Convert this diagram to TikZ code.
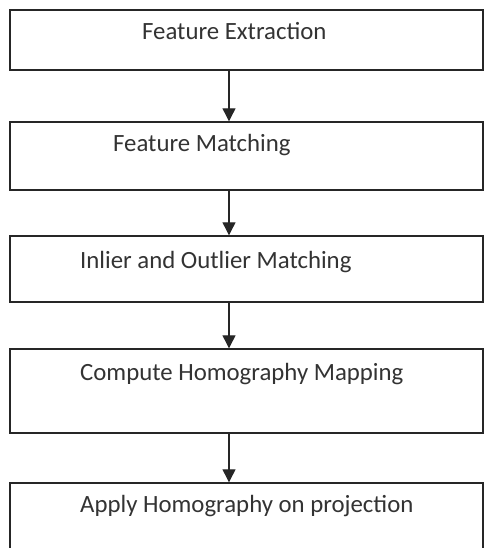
\documentclass[tikz,border=0pt]{standalone}
\usepackage{fontspec}
\setmainfont{Carlito}
\usepackage{xcolor}
\usetikzlibrary{arrows.meta}
\definecolor{FlowLine}{HTML}{262626}
\definecolor{FlowText}{HTML}{333333}

\tikzset{
  stagebox/.style={draw=FlowLine,line width=1.4pt,rectangle,minimum width=473pt,inner sep=0pt},
  stagetext/.style={anchor=base west,inner sep=0pt,text=FlowText,font=\fontsize{24.8}{29}\selectfont},
  flowarrow/.style={draw=FlowLine,line width=1.2pt,-{Triangle[width=13pt,length=13pt]}}
}

\begin{document}
\begin{tikzpicture}[x=1pt,y=-1pt]
\clip (0,0) rectangle (484,548);
\fill[white] (0,0) rectangle (484,548);
\coordinate (ax) at (229,0);
% stages
\node[stagebox,minimum height=60pt] (extract) at (246.5,40) {};
\node[stagebox,minimum height=68pt] (match) at (246.5,156) {};
\node[stagebox,minimum height=66pt] (inlier) at (246.5,269) {};
\node[stagebox,minimum height=84pt] (homog) at (246.5,391) {};
\node[stagebox,minimum height=72pt] (apply) at (246.5,519) {};
% labels
\node[stagetext] (extractlbl) at (142,40) {Feature Extraction};
\node[stagetext] (matchlbl) at (113,152) {Feature Matching};
\node[stagetext] (inlierlbl) at (80,268) {Inlier and Outlier Matching};
\node[stagetext] (homoglbl) at (80,380) {Compute Homography Mapping};
\node[stagetext] (applylbl) at (80,512) {Apply Homography on projection};
% arrows
\draw[flowarrow] (extract.south -| ax) -- (match.north -| ax);
\draw[flowarrow] (match.south -| ax) -- (inlier.north -| ax);
\draw[flowarrow] (inlier.south -| ax) -- (homog.north -| ax);
\draw[flowarrow] (homog.south -| ax) -- (apply.north -| ax);
\end{tikzpicture}
\end{document}
